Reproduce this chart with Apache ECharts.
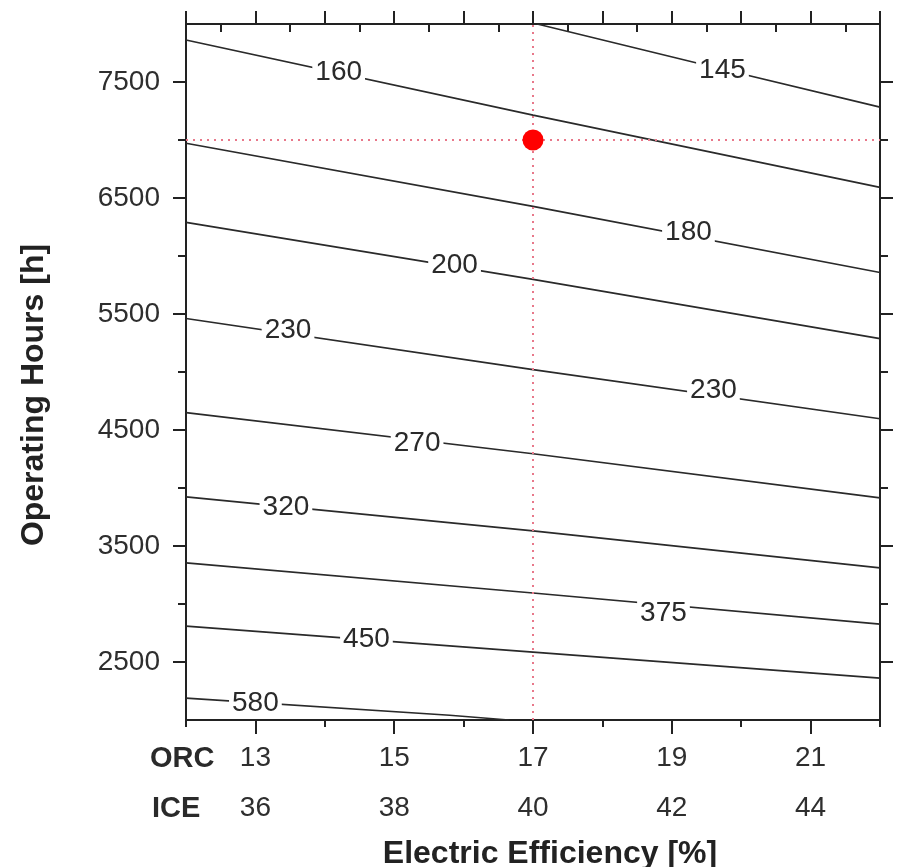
<!DOCTYPE html>
<html>
<head>
<meta charset="utf-8">
<script src="https://cdn.jsdelivr.net/npm/echarts@6/dist/echarts.min.js"></script>
<style>
  html, body { margin: 0; padding: 0; background: #fff; }
  #chart { width: 900px; height: 867px; }
</style>
</head>
<body>
<div id="chart"></div>
<script>
// x axis: ORC efficiency, ICE efficiency is shown underneath
const orcTicks = [13, 15, 17, 19, 21]
const iceTicks = [36, 38, 40, 42, 44]
const orcMinorTicks = [12, 14, 16, 18, 20, 22]
const hourTicks = [2500, 3500, 4500, 5500, 6500, 7500]
const hourMinorTicks = [3000, 4000, 5000, 6000, 7000]

// iso-lines [ORC efficiency, operating hours]
const iso145 = [[17.06, 8000], [19.73, 7610], [22, 7283]]
const iso160 = [[12, 7862], [17, 7214], [22, 6592]]
const iso180 = [[12, 6972], [17, 6428], [22, 5858]]
const iso200 = [[12, 6290], [17, 5798], [22, 5288]]
const iso230 = [[12, 5461], [17, 5021], [22, 4597]]
const iso270 = [[12, 4649], [17, 4295], [22, 3915]]
const iso320 = [[12, 3924], [17, 3630], [22, 3311]]
const iso375 = [[12, 3354], [17, 3095], [22, 2827]]
const iso450 = [[12, 2810], [17, 2585], [22, 2361]]
const iso580 = [[12, 2188], [15.8, 2041], [16.65, 2000]]

// label positions on the lines
const isoLabels = [
  [14.20, 7585, '160'], [19.73, 7603, '145'], [19.24, 6204, '180'],
  [15.87, 5919, '200'], [13.47, 5357, '230'], [19.60, 4839, '230'],
  [15.33, 4382, '270'], [13.44, 3837, '320'], [18.88, 2922, '375'],
  [14.60, 2697, '450'], [13.00, 2145, '580']
]

const designPoint = [17, 7000]

const FONT = '"Liberation Sans", Arial, sans-serif'
const lineColor = '#2a2a2a'

let myChart = echarts.init(document.getElementById('chart'), null, { renderer: 'canvas' })

function isoSeries(data) {
  return {
    type: 'line',
    data: data,
    symbol: 'none',
    silent: true,
    clip: true,
    lineStyle: { color: lineColor, width: 1.7 },
    z: 2
  }
}

// extra axes only used for the different tick marks
function tickAxis(pos, values, len, inside) {
  return {
    type: 'value', position: pos,
    min: pos === 'left' || pos === 'right' ? 2000 : 12,
    max: pos === 'left' || pos === 'right' ? 8000 : 22,
    axisLine: { show: true, lineStyle: { color: '#222', width: 2 } },
    axisTick: { show: true, customValues: values, length: len, inside: !!inside, lineStyle: { color: '#222', width: 2 } },
    axisLabel: { show: false },
    splitLine: { show: false }
  }
}

let option = {
  animation: false,
  backgroundColor: '#fff',
  grid: { left: 186, top: 24, right: 20, bottom: 147, outerBoundsMode: 'none' },
  xAxis: [
    {
      type: 'value', position: 'bottom', min: 12, max: 22,
      name: 'Electric Efficiency [%]',
      nameLocation: 'middle',
      nameGap: 101,
      nameTextStyle: { fontFamily: FONT, fontSize: 32, fontWeight: 'bold', color: '#222', padding: [0, 0, 0, 34] },
      axisLine: { show: true, lineStyle: { color: '#222', width: 2 } },
      axisTick: { show: true, customValues: orcTicks, length: 14, lineStyle: { color: '#222', width: 2 } },
      axisLabel: {
        customValues: orcTicks,
        margin: 13,
        fontFamily: FONT, fontSize: 28, color: '#2e2e2e', lineHeight: 50,
        formatter: v => v + '\n' + iceTicks[orcTicks.indexOf(v)]
      },
      splitLine: { show: false }
    },
    tickAxis('bottom', orcMinorTicks, 7),
    tickAxis('top', [12, 13, 14, 15, 16, 17, 18, 19, 20, 21, 22], 13),
    tickAxis('top', [12.5, 13.5, 14.5, 15.5, 16.5, 17.5, 18.5, 19.5, 20.5, 21.5], 8, true)
  ],
  yAxis: [
    {
      type: 'value', position: 'left', min: 2000, max: 8000,
      name: 'Operating Hours [h]',
      nameLocation: 'middle',
      nameGap: 136,
      nameTextStyle: { fontFamily: FONT, fontSize: 32, fontWeight: 'bold', color: '#222', padding: [0, 46, 0, 0] },
      axisLine: { show: true, lineStyle: { color: '#222', width: 2 } },
      axisTick: { show: true, customValues: hourTicks, length: 13, lineStyle: { color: '#222', width: 2 } },
      axisLabel: {
        customValues: hourTicks, margin: 26,
        fontFamily: FONT, fontSize: 28, color: '#2e2e2e',
        formatter: v => String(v)
      },
      splitLine: { show: false }
    },
    tickAxis('left', hourMinorTicks, 8),
    tickAxis('right', hourTicks, 13),
    tickAxis('right', hourMinorTicks, 8)
  ],
  graphic: [
    { type: 'text', left: 150, top: 744, style: { text: 'ORC', font: 'bold 29px ' + FONT, fill: '#2a2a2a' } },
    { type: 'text', left: 152, top: 794, style: { text: 'ICE', font: 'bold 29px ' + FONT, fill: '#2a2a2a' } }
  ],
  series: [
    isoSeries(iso145), isoSeries(iso160), isoSeries(iso180), isoSeries(iso200),
    isoSeries(iso230), isoSeries(iso270), isoSeries(iso320), isoSeries(iso375),
    isoSeries(iso450), isoSeries(iso580),
    {
      type: 'scatter',
      data: isoLabels,
      symbolSize: 0,
      silent: true,
      itemStyle: { color: 'rgba(0,0,0,0)', opacity: 1 },
      label: {
        show: true, position: 'inside',
        formatter: p => p.value[2],
        fontFamily: FONT, fontSize: 28, color: '#2a2a2a', opacity: 1,
        backgroundColor: '#fff', padding: [0, 3]
      },
      z: 5
    },
    {
      type: 'scatter',
      data: [designPoint],
      symbolSize: 21,
      itemStyle: { color: '#f00', opacity: 1 },
      z: 6,
      markLine: {
        silent: true,
        symbol: 'none',
        label: { show: false },
        lineStyle: { color: '#e8788a', type: [2, 5], width: 2 },
        data: [{ xAxis: designPoint[0] }, { yAxis: designPoint[1] }]
      }
    }
  ]
}

myChart.setOption(option)
</script>
</body>
</html>
